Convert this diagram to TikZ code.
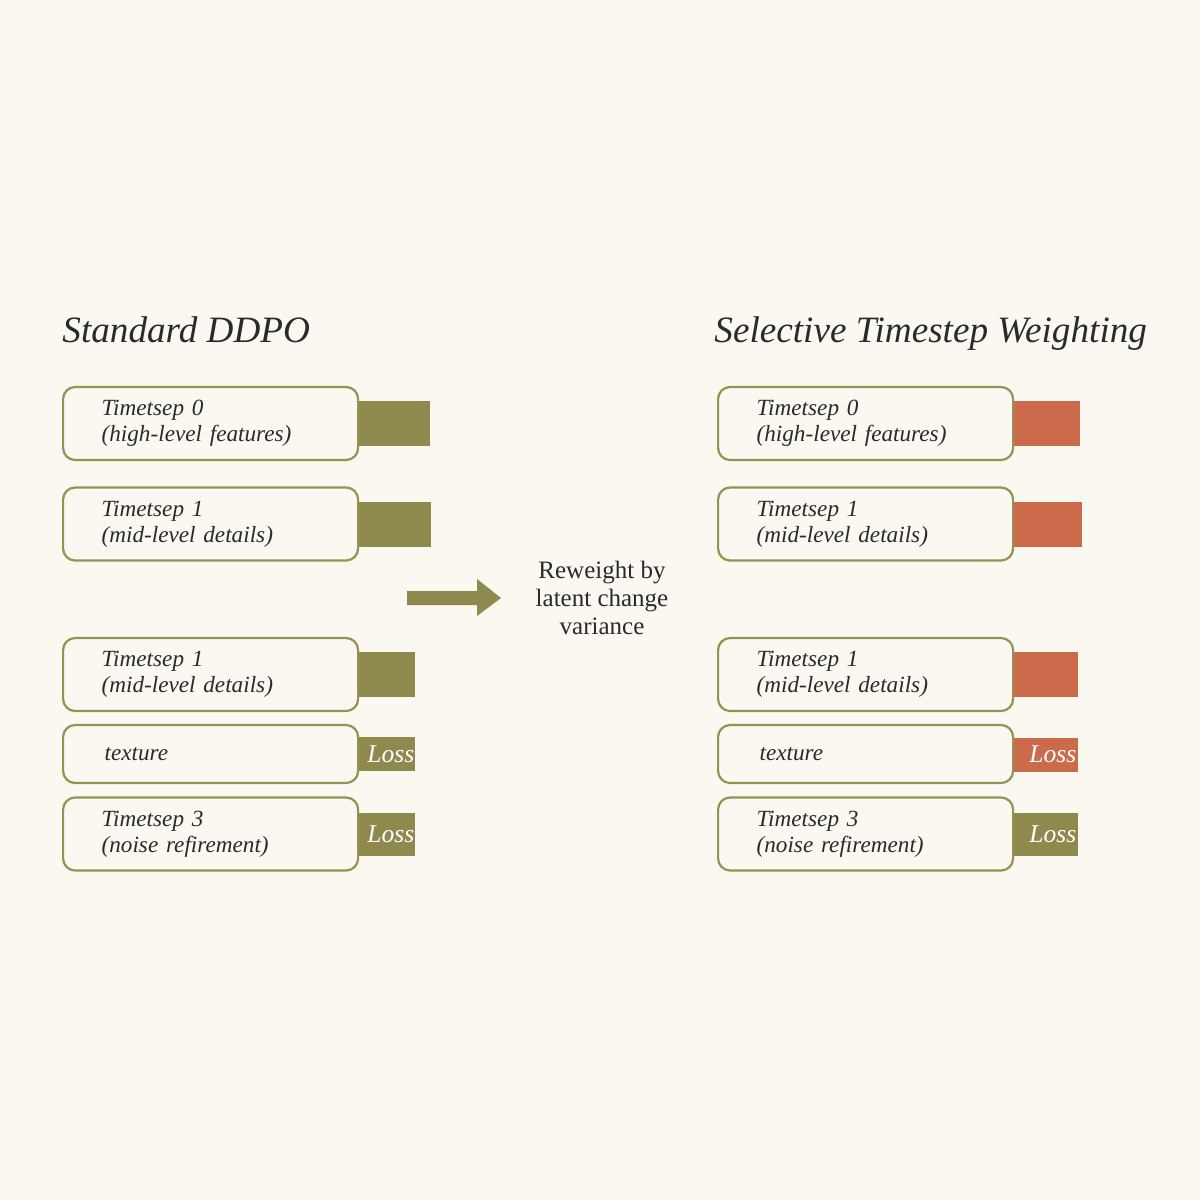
\documentclass[tikz,border=0pt]{standalone}
\usepackage{fontspec}
\setmainfont{Liberation Serif}
\usetikzlibrary{positioning}
\definecolor{bgc}{HTML}{FAF8F0}
\definecolor{olive}{HTML}{8E8A4E}
\definecolor{oliveline}{HTML}{979152}
\definecolor{orng}{HTML}{CC6A4C}
\definecolor{ink}{HTML}{2A2A2A}
\begin{document}
\begin{tikzpicture}[x=0.5pt,y=-0.5pt,
  stepbox/.style={draw=oliveline, line width=1.1pt, fill=bgc, rounded corners=6pt,
    minimum width=147.5pt, minimum height=36.5pt, text width=109pt, inner xsep=18.5pt,
    align=left, anchor=west, font=\fontsize{11.6}{13}\selectfont\itshape, text=ink},
  shortbox/.style={stepbox, minimum height=29pt},
  bar/.style={minimum height=22.5pt, inner sep=0pt, anchor=west, text=white,
    font=\fontsize{12.8}{14}\selectfont\itshape},
  gbar/.style={bar, fill=olive},
  obar/.style={bar, fill=orng},
  title/.style={anchor=base west, font=\fontsize{18.6}{22}\selectfont\itshape, text=ink, inner sep=0pt}
]
\fill[bgc] (0,0) rectangle (1200,1200);
\useasboundingbox (0,0) rectangle (1200,1200);

\node[title] (tl) at (62,342) {Standard DDPO};
\node[title] (tr) at (714,342) {Selective Timestep Weighting};

% left bars
\node[gbar, minimum width=37pt] (lb1) at (356,423.5) {};
\node[gbar, minimum width=37.5pt] (lb2) at (356,524.5) {};
\node[gbar, minimum width=29.5pt] (lb3) at (356,674.5) {};
\node[gbar, minimum width=29.5pt, minimum height=17pt, align=right, text width=28.5pt] (lb4) at (356,754) {Loss};
\node[gbar, minimum width=29.5pt, minimum height=21.5pt, align=right, text width=28.5pt] (lb5) at (356,834.5) {\raisebox{-2pt}{Loss}};
% right bars
\node[obar, minimum width=34.5pt] (rb1) at (1011,423.5) {};
\node[obar, minimum width=35.5pt] (rb2) at (1011,524.5) {};
\node[obar, minimum width=33.5pt] (rb3) at (1011,674.5) {};
\node[obar, minimum width=33.5pt, minimum height=17pt, align=right, text width=31.5pt] (rb4) at (1011,754.5) {Loss};
\node[gbar, minimum width=33.5pt, minimum height=21.5pt, align=right, text width=31.5pt] (rb5) at (1011,834.5) {\raisebox{-2pt}{Loss}};

% left boxes
\node[stepbox] (l1) at (62,423.5) {Timetsep 0\\(high-level features)};
\node[stepbox] (l2) at (62,524) {Timetsep 1\\(mid-level details)};
\node[stepbox] (l3) at (62,674.5) {Timetsep 1\\(mid-level details)};
\node[shortbox] (l4) at (62,754) {\hspace*{1.5pt}texture};
\node[stepbox] (l5) at (62,834) {Timetsep 3\\(noise refirement)};
% right boxes
\node[stepbox] (r1) at (717,423.5) {Timetsep 0\\(high-level features)};
\node[stepbox] (r2) at (717,524) {Timetsep 1\\(mid-level details)};
\node[stepbox] (r3) at (717,674.5) {Timetsep 1\\(mid-level details)};
\node[shortbox] (r4) at (717,754) {\hspace*{1.5pt}texture};
\node[stepbox] (r5) at (717,834) {Timetsep 3\\(noise refirement)};

% arrow
\fill[olive] (407,591) -- (477,591) -- (477,579) -- (501,598) -- (477,616) -- (477,605) -- (407,605) -- cycle;

\node[align=center, font=\fontsize{12.5}{14}\selectfont, text=ink] (rw) at (602,598) {Reweight by\\latent change\\variance};
\end{tikzpicture}
\end{document}
